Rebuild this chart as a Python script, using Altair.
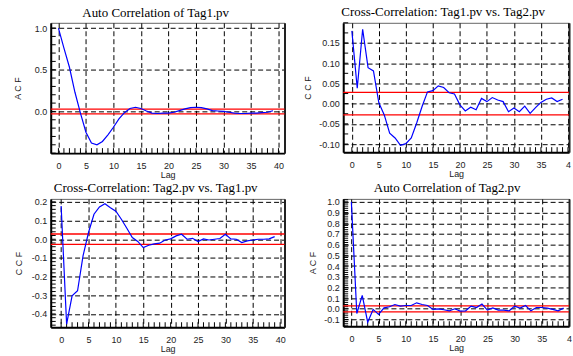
import altair as alt
import pandas as pd

lags = list(range(40))

acf_tag1 = [1.0, 0.76, 0.53, 0.23, -0.02, -0.25, -0.38, -0.40, -0.36, -0.28,
            -0.19, -0.09, -0.015, 0.035, 0.05, 0.035, 0.005, -0.02, -0.025, -0.02,
            -0.02, -0.01, 0.01, 0.03, 0.045, 0.05, 0.045, 0.03, 0.01, 0.005,
            0.0, -0.01, -0.02, -0.025, -0.025, -0.02, -0.02, -0.015, -0.01, 0.008]

ccf_tag1_tag2 = [0.18, 0.038, 0.184, 0.089, 0.081, 0.002, -0.028, -0.073, -0.085, -0.103,
                 -0.099, -0.085, -0.048, -0.007, 0.029, 0.032, 0.044, 0.04, 0.027, 0.024,
                 -0.003, -0.018, -0.009, -0.015, 0.013, 0.005, 0.015, 0.009, 0.005, -0.02,
                 -0.011, -0.02, -0.006, -0.024, -0.01, 0.003, 0.011, 0.014, 0.005, 0.011]

ccf_tag2_tag1 = [0.178, -0.455, -0.303, -0.276, -0.089, 0.036, 0.134, 0.173, 0.19, 0.169,
                 0.15, 0.107, 0.059, 0.009, -0.012, -0.045, -0.032, -0.025, -0.021, -0.004,
                 0.002, 0.018, 0.027, 0.0, 0.005, -0.012, 0.002, -0.004, 0.0, 0.004,
                 0.027, 0.002, 0.0, -0.018, -0.009, -0.004, 0.0, 0.0, 0.002, 0.014]

acf_tag2 = [1.0, -0.044, 0.125, -0.125, -0.006, -0.053, 0.009, 0.019, 0.04, 0.025,
            0.031, 0.031, 0.056, 0.04, 0.031, -0.006, 0.0, -0.009, -0.019, 0.0,
            -0.022, -0.019, 0.025, 0.012, 0.044, -0.012, 0.009, -0.012, -0.012, -0.019,
            0.025, 0.006, 0.031, -0.019, 0.012, 0.012, 0.006, -0.006, -0.019, 0.006]

conf_limits = [0.028, -0.028]

x_major = [0, 5, 10, 15, 20, 25, 30, 35, 40]
x_minor = list(range(0, 41))

y1_major = [0.0, 0.5, 1.0]
y2_major = [-0.10, -0.05, 0.0, 0.05, 0.10, 0.15]
y3_major = [-0.4, -0.3, -0.2, -0.1, 0.0, 0.1, 0.2]
y4_major = [-0.1, 0.0, 0.1, 0.2, 0.3, 0.4, 0.5, 0.6, 0.7, 0.8, 0.9, 1.0]

SANS = "Liberation Sans"
SERIF = "Liberation Serif"
MINUS = "replace(datum.label, '\u2212', '-')"
TICK_LEN = 5


def minor_vals(lo, hi, step):
    n = int(round((hi - lo) / step))
    return [round(lo + i * step, 4) for i in range(n + 1)]


def panel(vals, title, ytitle, xdom, ydom, ymajor, yminor, yfmt, w, h,
          title_dx, ytitle_x, clip40):
    df = pd.DataFrame({"lag": lags, "v": vals})
    xs = alt.Scale(domain=xdom, nice=False, zero=False)
    ys = alt.Scale(domain=ydom, nice=False, zero=False)

    xlab = "datum.value == 40 ? '4' : datum.label" if clip40 else "datum.label"
    x_axis = alt.Axis(orient="bottom", values=x_major, grid=True, gridDash=[5, 3],
                      gridColor="black", gridWidth=1, gridOpacity=1,
                      ticks=False, tickSize=0, domain=True, domainColor="black",
                      domainWidth=2, labelFont=SANS, labelFontSize=9,
                      labelColor="#222", labelPadding=8, labelFlush=False,
                      labelOverlap=False, labelExpr=xlab,
                      title="Lag", titleFont=SANS, titleFontSize=9,
                      titleFontWeight="normal", titleColor="#222",
                      titleY=21, titleBaseline="middle")
    y_axis = alt.Axis(orient="left", values=ymajor, grid=True, gridDash=[5, 3],
                      gridColor="black", gridWidth=1, gridOpacity=1,
                      ticks=False, tickSize=0, domain=True, domainColor="black",
                      domainWidth=2, labelFont=SANS, labelFontSize=9,
                      labelColor="#222", labelPadding=4, labelFlush=False,
                      labelOverlap=False, format=yfmt, labelExpr=MINUS,
                      title=ytitle, titleFont=SANS, titleFontSize=9,
                      titleFontWeight="normal", titleColor="#222",
                      titleX=ytitle_x, titleBaseline="middle")

    line = alt.Chart(df).mark_line(color="#0000ff", strokeWidth=1.2, clip=True).encode(
        x=alt.X("lag:Q", scale=xs, axis=x_axis),
        y=alt.Y("v:Q", scale=ys, axis=y_axis),
    )
    xm = [t for t in x_minor if xdom[0] <= t <= xdom[1]]
    xminor = alt.Chart(pd.DataFrame({"t": xm})).mark_rule(
        color="black", strokeWidth=1).encode(
        x=alt.X("t:Q", scale=xs, axis=None),
        y=alt.value(h), y2=alt.value(h - TICK_LEN),
    )
    yminor_rules = alt.Chart(pd.DataFrame({"t": yminor})).mark_rule(
        color="black", strokeWidth=1).encode(
        y=alt.Y("t:Q", scale=ys, axis=None),
        x=alt.value(0), x2=alt.value(TICK_LEN),
    )
    edge = alt.Chart(df).mark_point(opacity=0).encode(
        y=alt.Y("v:Q", scale=ys,
                axis=alt.Axis(orient="right", domain=True, domainColor="#222",
                              domainWidth=2, ticks=False, labels=False,
                              grid=False, title=None)),
    )
    rules = alt.Chart(pd.DataFrame({"c": conf_limits})).mark_rule(
        color="#ff0000", strokeWidth=1.3).encode(
        y=alt.Y("c:Q", scale=ys, axis=None)
    )
    return alt.layer(edge, xminor, yminor_rules, rules, line).resolve_axis(
        x="independent", y="independent"
    ).properties(
        width=w, height=h,
        title=alt.TitleParams(text=title, font=SERIF, fontSize=13,
                              fontWeight="normal", color="black",
                              anchor="middle", offset=3, dx=title_dx),
    )


p1 = panel(acf_tag1, "Auto Correlation of Tag1.pv", "A C F",
           [-1.4, 41.1], [-0.5, 1.063], y1_major, minor_vals(-0.5, 1.0, 0.1),
           ".1f", 235, 131, -12, -33, False)
p2 = panel(ccf_tag1_tag2, "Cross-Correlation: Tag1.pv vs. Tag2.pv", "C C F",
           [-1.6, 40.2], [-0.12, 0.2], y2_major, minor_vals(-0.1, 0.2, 0.025),
           ".2f", 227, 130, -13, -36, True)
p3 = panel(ccf_tag2_tag1, "Cross-Correlation: Tag2.pv vs. Tag1.pv", "C C F",
           [-1.9, 40.8], [-0.471, 0.216], y3_major, minor_vals(-0.46, 0.2, 0.02),
           ".1f", 235, 129, -12, -32, False)
p4 = panel(acf_tag2, "Auto Correlation of Tag2.pv", "A C F",
           [-1.5, 40.0], [-0.163, 1.028], y4_major, minor_vals(-0.16, 1.02, 0.02),
           ".1f", 227, 128, -9, -31, True)

chart = alt.concat(
    p1, p2, p3, p4, columns=2, spacing={"row": 46, "column": 59}, bounds="flush"
).properties(
    padding={"left": 13, "top": 5, "right": 0, "bottom": 0},
    background="white",
).configure_view(stroke="#666", strokeWidth=1)

chart.save("out.html", embed_options={"renderer": "svg", "actions": False})
